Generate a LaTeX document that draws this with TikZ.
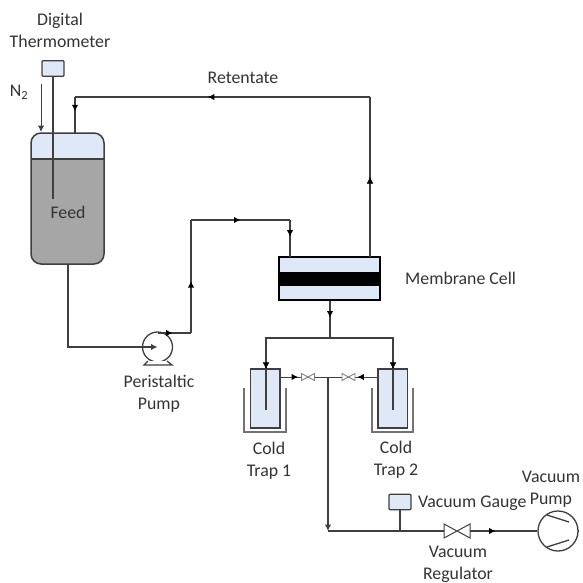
\documentclass[tikz,border=0pt]{standalone}
\usepackage{fontspec}
\setmainfont{Carlito}
\usetikzlibrary{arrows.meta,decorations.markings,calc}
\definecolor{paleblue}{HTML}{DFE8F6}
\definecolor{feedgrey}{HTML}{A6A6A6}
\definecolor{pipegrey}{HTML}{3F3F3F}
\tikzset{
    pipe/.style={draw=pipegrey, line width=1.3pt},
    flowmark/.style={postaction={decorate, decoration={markings,
        mark=at position #1 with {\arrow[black]{Latex[length=6.5pt,width=6.5pt]}}}}},
    lbl/.style={font=\fontsize{17.8}{22}\selectfont, text=black!80, align=center, inner sep=0pt},
    gaugebox/.style={draw=pipegrey, line width=1.3pt, fill=paleblue, rounded corners=1pt,
        minimum width=22pt, minimum height=15.5pt, inner sep=0pt},
    trapbox/.style={draw=pipegrey, line width=1.5pt, fill=paleblue,
        minimum width=29.5pt, minimum height=59pt, inner sep=0pt},
    bath/.style={draw=black!55, line width=1.3pt},
    smallvalve/.style={draw=black!50, line width=0.9pt, fill=white},
    roundpump/.style={circle, draw=pipegrey, line width=1.3pt, fill=white, inner sep=0pt}
}
\begin{document}
\begin{tikzpicture}[x=1pt, y=-1pt]
    \useasboundingbox (0,0) rectangle (582,583);

    % feed tank
    \begin{scope}
        \clip[rounded corners=10pt] (31,133) rectangle (104,264);
        \fill[paleblue] (31,133) rectangle (104,159);
        \fill[feedgrey] (31,159) rectangle (104,264);
    \end{scope}
    \draw[pipe, line width=1.5pt] (31,159) -- (104,159);
    \draw[pipe, line width=1.5pt, rounded corners=10pt] (31,133) rectangle (104,264);
    \coordinate (tanktop) at (75,133);
    \coordinate (tankout) at (68,264);
    \coordinate (tip) at (53,199);
    \node[lbl] (feed) at (68,212) {Feed};

    % thermometer
    \node[gaugebox] (therm) at (53,68.5) {};
    \draw[pipe] (therm.south) -- (tip);
    \node[lbl] (thermlbl) at (60,30) {Digital\\Thermometer};

    % nitrogen
    \coordinate (nstart) at (41,84);
    \coordinate (nend) at (41,132);
    \draw[pipe, line width=1pt, -{Latex[length=6.5pt,width=6.5pt]}] (nstart) -- (nend);
    \node[lbl] (nlbl) at (19,92) {N\textsubscript{2}};

    % membrane
    \node[draw=black, line width=1.8pt, fill=paleblue, minimum width=101pt, minimum height=43pt, inner sep=0pt] (cell) at (329.5,278.5) {};
    \node[fill=black, minimum width=101pt, minimum height=14pt, inner sep=0pt] (band) at (cell.center) {};
    \node[lbl, anchor=west] (celllbl) at (405,278) {Membrane Cell};
    \coordinate (cellin) at (290,257);
    \coordinate (cellout) at (370,257);
    \coordinate (corner1) at (370,97);
    \coordinate (corner2) at (75,97);

    % retentate line
    \draw[pipe] (cellout) -- (corner1);
    \draw[pipe, flowmark=0.55] (corner1) -- (corner2);
    \draw[pipe, flowmark=0.4] (corner2) -- (tanktop);
    \path[flowmark=0.5] (cellout) -- (corner1);
    \node[lbl] (retlbl) at (243,78) {Retentate};

    % peristaltic pump
    \node[roundpump, minimum size=30pt] (perist) at (157.5,347) {};
    \draw[pipe, fill=white] (148,361) -- (144,365) -- (172,365) -- (167,361);
    \coordinate (pumptop) at (157.5,333);
    \coordinate (corner3) at (191,333);
    \coordinate (corner4) at (191,220);
    \coordinate (corner5) at (290,220);
    \coordinate (corner6) at (68,347);
    \draw[pipe, -{Latex[length=6.5pt,width=6.5pt]}] (tankout) -- (corner6) -- (perist.center);
    \draw[pipe, flowmark=0.45] (pumptop) -- (corner3);
    \draw[pipe, flowmark=0.46] (corner3) -- (corner4);
    \draw[pipe, flowmark=0.5] (corner4) -- (corner5);
    \draw[pipe, flowmark=0.45] (corner5) -- (cellin);
    \node[lbl] (peristlbl) at (159,394) {Peristaltic\\Pump};

    % cold traps
    \draw[bath] (244,388) -- (244,432) -- (286,432) -- (286,388);
    \draw[bath] (372,388) -- (372,432) -- (413,432) -- (413,388);
    \node[trapbox] (trapa) at (265,398.5) {};
    \node[trapbox] (trapb) at (392.5,398.5) {};
    \node[lbl] (trapalbl) at (269,461) {Cold\\Trap 1};
    \node[lbl] (trapblbl) at (396,460) {Cold\\Trap 2};
    \coordinate (split) at (330,338);
    \coordinate (splita) at (266,338);
    \coordinate (splitb) at (393,338);
    \coordinate (trapatip) at (266,410);
    \coordinate (trapbtip) at (393,410);
    \draw[pipe, flowmark=0.45] (cell.south -| split) -- (split);
    \draw[pipe] (trapatip) -- (splita) -- (splitb) -- (trapbtip);
    \path[flowmark=0.43] (splita) -- (trapatip);
    \path[flowmark=0.43] (splitb) -- (trapbtip);

    % line between the traps
    \coordinate (tee) at (328,377);
    \draw[pipe, line width=1pt, flowmark=0.37] (trapa.east |- tee) -- (tee);
    \draw[pipe, line width=1pt, flowmark=0.4] (trapb.west |- tee) -- (tee);
    \draw[smallvalve] (301.5,373.5) -- (314.5,380.5) -- (314.5,373.5) -- (301.5,380.5) -- cycle;
    \draw[smallvalve] (342,373.5) -- (355,380.5) -- (355,373.5) -- (342,380.5) -- cycle;

    % vacuum line
    \coordinate (corner7) at (328,531);
    \node[gaugebox] (gauge) at (400,502) {};
    \node[lbl, anchor=west] (gaugelbl) at (418,503) {Vacuum Gauge};
    \node[roundpump, minimum size=40pt] (vacpump) at (558,531) {};
    \coordinate (outlet) at (578,531);
    \coordinate (regin) at (444,531);
    \coordinate (regout) at (470,531);
    \draw[pipe, -{Latex[length=6.5pt,width=6.5pt]}] (tee) -- (corner7);
    \draw[pipe] (corner7) -- (regin);
    \draw[pipe] (gauge.south) -- (gauge.south |- corner7);
    \draw[pipe, flowmark=0.38] (regout) -- (vacpump.west);
    \draw[pipe, line width=1pt, fill=white] (444,524) -- (470,538) -- (470,524) -- (444,538) -- cycle;
    \draw[pipe] (vacpump.east) -- (outlet);
    \draw[pipe] (547,515) -- (569,522);
    \draw[pipe] (547,547) -- (569,540);
    \node[lbl] (reglbl) at (458,564) {Vacuum\\Regulator};
    \node[lbl] (vaclbl) at (551,489) {Vacuum\\Pump};
\end{tikzpicture}
\end{document}
